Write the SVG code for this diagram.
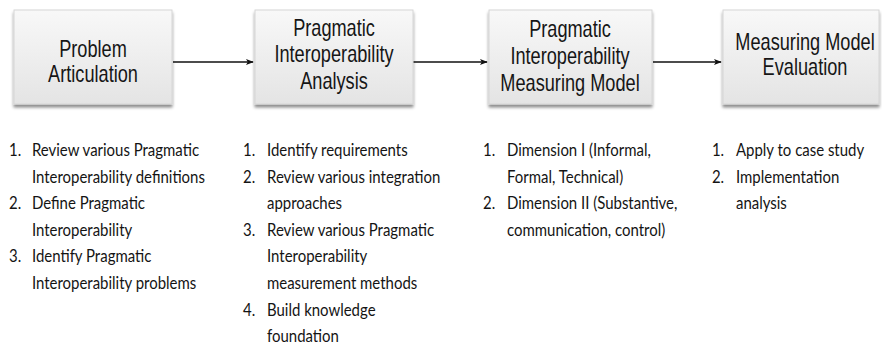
<svg xmlns="http://www.w3.org/2000/svg" width="882" height="347" viewBox="0 0 882 347">
<defs>
<linearGradient id="bg" x1="0" y1="0" x2="0" y2="1">
<stop offset="0" stop-color="#f8f8f8"/>
<stop offset="1" stop-color="#e4e4e4"/>
</linearGradient>
<filter id="sh" x="-10%" y="-10%" width="120%" height="130%">
<feDropShadow dx="0" dy="3" stdDeviation="1.8" flood-color="#000" flood-opacity="0.45"/>
</filter>
<marker id="ah" viewBox="0 0 10 10" refX="9" refY="5" markerWidth="8" markerHeight="8" markerUnits="userSpaceOnUse" orient="auto">
<path d="M0,1 L10,5 L0,9 L2.5,5 Z" fill="#111"/>
</marker>
</defs>
<style>
.box{fill:url(#bg);stroke:#d6d6d6;stroke-width:1;filter:url(#sh)}
.bt{font-family:"Liberation Sans",Arial,sans-serif;font-size:23px;fill:#161616;text-anchor:middle}
.lt{font-family:Lato,"Open Sans","Liberation Sans",sans-serif;font-size:17.5px;fill:#141414}
.cn{stroke:#111;stroke-width:1.3;fill:none;marker-end:url(#ah)}
</style>
<rect width="882" height="347" fill="#ffffff"/>
<g id="connectors">
<line class="cn" x1="173" y1="62" x2="253" y2="62"/>
<line class="cn" x1="413" y1="62" x2="487" y2="62"/>
<line class="cn" x1="653" y1="62" x2="721" y2="62"/>
</g>
<g id="node1">
<rect class="box" x="14" y="10" width="158" height="94"/>
<text class="bt" transform="matrix(0.79 0 0 1 93 57)">Problem</text>
<text class="bt" transform="matrix(0.79 0 0 1 93 82)">Articulation</text>
</g>
<g id="node2">
<rect class="box" x="255" y="10" width="158" height="94"/>
<text class="bt" transform="matrix(0.79 0 0 1 334 36)">Pragmatic</text>
<text class="bt" transform="matrix(0.79 0 0 1 334 62)">Interoperability</text>
<text class="bt" transform="matrix(0.79 0 0 1 334 89)">Analysis</text>
</g>
<g id="node3">
<rect class="box" x="489" y="10" width="163" height="94"/>
<text class="bt" transform="matrix(0.79 0 0 1 570 37)">Pragmatic</text>
<text class="bt" transform="matrix(0.79 0 0 1 570 64)">Interoperability</text>
<text class="bt" transform="matrix(0.79 0 0 1 570 91)">Measuring Model</text>
</g>
<g id="node4">
<rect class="box" x="723" y="10" width="156" height="94"/>
<text class="bt" transform="matrix(0.79 0 0 1 805 50)">Measuring Model</text>
<text class="bt" transform="matrix(0.79 0 0 1 805 75)">Evaluation</text>
</g>
<g transform="scale(0.855,1)">
<g id="list1" class="lt">
<text x="10.5" y="156">1.</text><text x="37.4" y="156">Review various Pragmatic</text>
<text x="37.4" y="182.6">Interoperability definitions</text>
<text x="10.5" y="209.2">2.</text><text x="37.4" y="209.2">Define Pragmatic</text>
<text x="37.4" y="235.8">Interoperability</text>
<text x="10.5" y="262.4">3.</text><text x="37.4" y="262.4">Identify Pragmatic</text>
<text x="37.4" y="289">Interoperability problems</text>
</g>
<g id="list2" class="lt">
<text x="284.2" y="156">1.</text><text x="312.3" y="156">Identify requirements</text>
<text x="284.2" y="182.6">2.</text><text x="312.3" y="182.6">Review various integration</text>
<text x="312.3" y="209.2">approaches</text>
<text x="284.2" y="235.8">3.</text><text x="312.3" y="235.8">Review various Pragmatic</text>
<text x="312.3" y="262.4">Interoperability</text>
<text x="312.3" y="289">measurement methods</text>
<text x="284.2" y="315.6">4.</text><text x="312.3" y="315.6">Build knowledge</text>
<text x="312.3" y="342">foundation</text>
</g>
<g id="list3" class="lt">
<text x="564.9" y="156">1.</text><text x="593" y="156">Dimension I (Informal,</text>
<text x="593" y="182.6">Formal, Technical)</text>
<text x="564.9" y="209.2">2.</text><text x="593" y="209.2">Dimension II (Substantive,</text>
<text x="593" y="235.8">communication, control)</text>
</g>
<g id="list4" class="lt">
<text x="832.7" y="156">1.</text><text x="860.8" y="156">Apply to case study</text>
<text x="832.7" y="182.6">2.</text><text x="860.8" y="182.6">Implementation</text>
<text x="860.8" y="209.2">analysis</text>
</g>
</g>
</svg>
